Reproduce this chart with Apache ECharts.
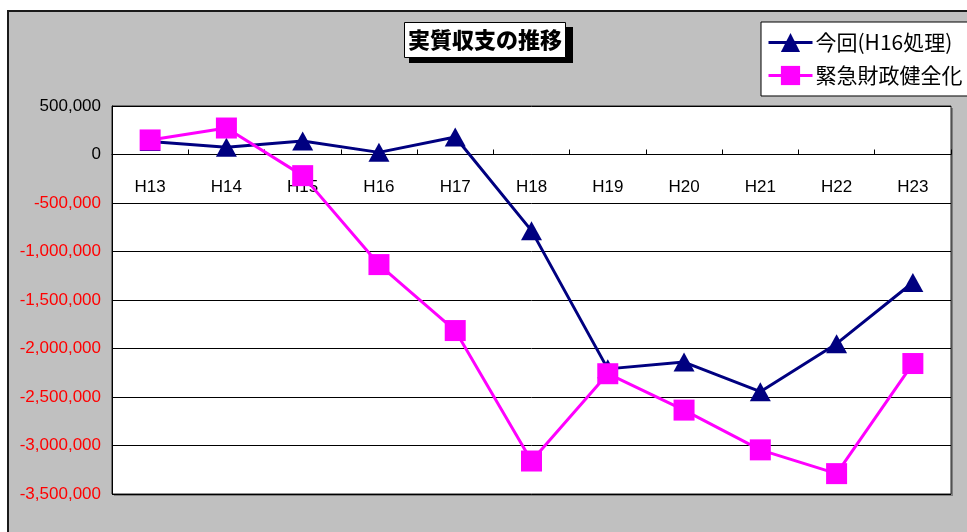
<!DOCTYPE html>
<html>
<head>
<meta charset="utf-8">
<style>
  html, body { margin: 0; padding: 0; background: #ffffff; }
  #chart { width: 967px; height: 532px; }
</style>
<script src="https://cdn.jsdelivr.net/npm/echarts@6/dist/echarts.min.js"></script>
</head>
<body>
<div id="chart"></div>
<script>
// 年度（平成）
const years = ['H13', 'H14', 'H15', 'H16', 'H17', 'H18', 'H19', 'H20', 'H21', 'H22', 'H23'];

// 実質収支（千円）
const currentPlan = [135000, 75000, 140000, 22000, 180000, -785000, -2210000, -2140000, -2445000, -1950000, -1320000];
const emergencyPlan = [150000, 273000, -218000, -1135000, -1815000, -3160000, -2260000, -2635000, -3045000, -3290000, -2155000];

const seriesNames = ['今回(H16処理)', '緊急財政健全化'];
const titleText = '実質収支の推移';

const yMin = -3500000;
const yMax = 500000;
const yStep = 500000;

// plot area
const gridTop = 106;
const gridHeight = 388;
// distance from the bottom of the plot up to the zero line
const zeroLift = gridHeight * (0 - yMin) / (yMax - yMin);

const chart = echarts.init(document.getElementById('chart'));

const numFont = '"Liberation Sans Narrow", "Arial Narrow", "Liberation Sans", Arial, sans-serif';
const jpFont = '"Noto Sans CJK JP", "Noto Sans CJK SC", sans-serif';

chart.setOption({
  animation: false,
  backgroundColor: '#ffffff',
  graphic: [
    // chart area frame
    {
      type: 'rect', z: -10, silent: true,
      shape: { x: 8, y: 11, width: 980, height: 540 },
      style: { fill: '#c0c0c0', stroke: '#1a1a1a', lineWidth: 2 }
    },
    // plot area drop shadow
    {
      type: 'rect', z: -5, silent: true,
      shape: { x: 114, y: 108, width: 839, height: 388 },
      style: { fill: '#808080' }
    },
    // title drop shadow
    {
      type: 'rect', z: -1, silent: true,
      shape: { x: 409, y: 27, width: 164, height: 36 },
      style: { fill: '#000000' }
    }
  ],
  title: {
    text: titleText,
    left: 404,
    top: 22,
    padding: [4, 4, 4, 4],
    backgroundColor: '#ffffff',
    borderColor: '#000000',
    borderWidth: 1,
    textStyle: {
      fontFamily: jpFont,
      fontSize: 22,
      fontWeight: 900,
      color: '#000000',
      lineHeight: 28
    }
  },
  legend: {
    data: seriesNames,
    orient: 'vertical',
    left: 761,
    top: 22,
    padding: [10, 40, 10, 6],
    itemGap: 12,
    itemWidth: 44,
    itemHeight: 24,
    lineStyle: { width: 3 },
    backgroundColor: '#ffffff',
    borderColor: '#000000',
    borderWidth: 1,
    textStyle: {
      fontFamily: jpFont,
      fontSize: 21,
      color: '#000000',
      padding: [0, 0, 0, -2]
    }
  },
  grid: {
    left: 112,
    top: gridTop,
    width: 839,
    height: gridHeight,
    show: true,
    backgroundColor: '#ffffff',
    borderColor: '#222222',
    borderWidth: 1
  },
  xAxis: {
    type: 'category',
    data: years,
    boundaryGap: true,
    offset: -zeroLift,
    axisLine: { onZero: false, lineStyle: { color: '#000000', width: 1 } },
    axisTick: { show: true, inside: true, length: 5, lineStyle: { color: '#000000' } },
    axisLabel: {
      margin: 24,
      fontFamily: numFont,
      fontSize: 17,
      color: '#000000'
    },
    splitLine: { show: false }
  },
  yAxis: {
    type: 'value',
    min: yMin,
    max: yMax,
    interval: yStep,
    axisLine: { show: true, lineStyle: { color: '#000000' } },
    axisTick: { show: false },
    axisLabel: {
      margin: 11,
      fontFamily: numFont,
      fontSize: 17,
      color: function (v) { return v < 0 ? '#ff0000' : '#000000'; },
      formatter: function (v) { return v.toLocaleString('en-US'); }
    },
    splitLine: { show: true, lineStyle: { color: '#000000', width: 1 } }
  },
  series: [
    {
      name: seriesNames[0],
      type: 'line',
      data: currentPlan,
      symbol: 'triangle',
      symbolSize: [21, 19],
      lineStyle: { color: '#000080', width: 3 },
      itemStyle: { color: '#000080' },
      z: 3
    },
    {
      name: seriesNames[1],
      type: 'line',
      data: emergencyPlan,
      symbol: 'rect',
      symbolSize: 21,
      lineStyle: { color: '#ff00ff', width: 3 },
      itemStyle: { color: '#ff00ff' },
      z: 4
    }
  ]
});
</script>
</body>
</html>
